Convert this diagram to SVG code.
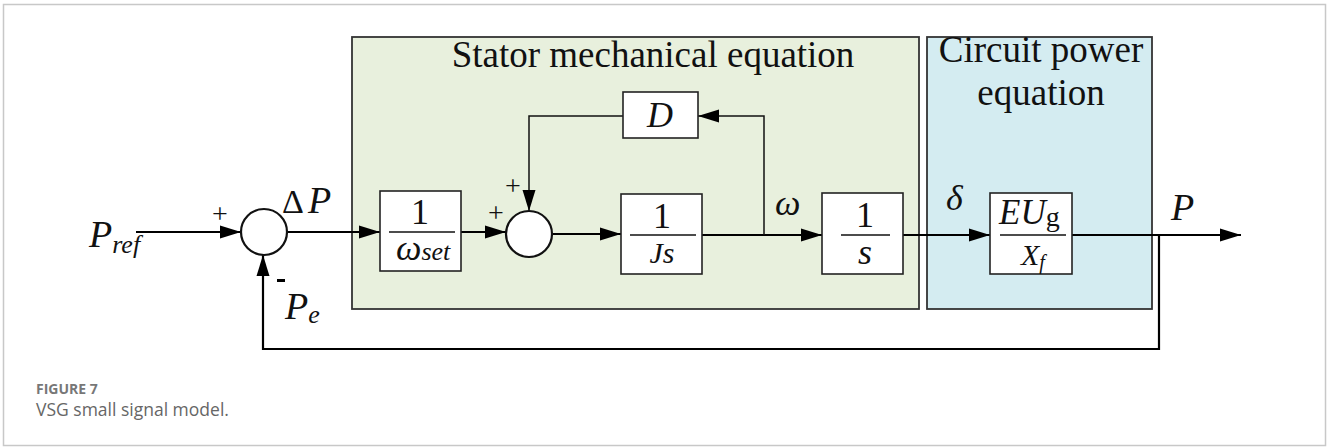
<svg xmlns="http://www.w3.org/2000/svg" width="1327" height="447" viewBox="0 0 1327 447">
<style>
.frame{fill:#fff;stroke:#c8c8c8;stroke-width:1.5}
.grp{stroke:#333;stroke-width:1.8}
.blk{fill:#fff;stroke:#222;stroke-width:1.6}
.sum{fill:#fff;stroke:#111;stroke-width:2.2}
.ln{fill:none;stroke:#000;stroke-width:2.2}
.thin{fill:none;stroke:#111;stroke-width:1.5}
.fr{stroke:#111;stroke-width:1.6}
.t{font-family:"Liberation Serif","Times New Roman",serif;fill:#111}
.i{font-style:italic}
.title{font-size:37px}
.cap1{font-family:"Open Sans","Liberation Sans",sans-serif;font-weight:bold;font-size:14px;fill:#777}
.cap2{font-family:"Open Sans","Liberation Sans",sans-serif;font-size:17.5px;fill:#666}
</style>
<defs>
<marker id="ah" markerUnits="userSpaceOnUse" markerWidth="22" markerHeight="14" refX="21" refY="7" orient="auto">
<path d="M0,0.5 L21,7 L0,13.5 z" fill="#000"/>
</marker>
</defs>
<rect class="frame" x="3.5" y="4.5" width="1322" height="441"/>

<g id="stator-group">
<rect class="grp" x="352" y="37" width="567" height="272" fill="#e8f0dd"/>
<text class="t title" x="653" y="67" text-anchor="middle">Stator mechanical equation</text>
</g>
<g id="circuit-group">
<rect class="grp" x="927" y="37" width="225" height="272" fill="#d4ecf1"/>
<text class="t title" x="1041" y="62" text-anchor="middle">Circuit power</text>
<text class="t title" x="1041" y="105" text-anchor="middle">equation</text>
</g>

<g id="connectors">
<path class="ln" d="M136,232 H241" marker-end="url(#ah)"/>
<path class="ln" d="M287,232 H380" marker-end="url(#ah)"/>
<path class="ln" d="M461,232 H506" marker-end="url(#ah)"/>
<path class="ln" d="M552,234 H621" marker-end="url(#ah)"/>
<path class="ln" d="M702,235 H822" marker-end="url(#ah)"/>
<path class="thin" d="M764,235 V116 H698" marker-end="url(#ah)"/>
<path class="thin" d="M623,116 H529 V211" marker-end="url(#ah)"/>
<path class="ln" d="M903,235 H990" marker-end="url(#ah)"/>
<path class="ln" d="M1072,235 H1241" marker-end="url(#ah)"/>
<path class="ln" d="M1159,235 V349 H263 V255" marker-end="url(#ah)"/>
</g>

<g id="sum1">
<circle class="sum" cx="264" cy="232" r="23"/>
<text class="t" x="220" y="223" font-size="28" text-anchor="middle">+</text>
<rect x="277" y="279" width="8" height="3" fill="#000"/>
</g>
<g id="sum2">
<circle class="sum" cx="529" cy="234" r="23"/>
<text class="t" x="496" y="222" font-size="28" text-anchor="middle">+</text>
<text class="t" x="513" y="195" font-size="28" text-anchor="middle">+</text>
</g>

<g id="block-wset">
<rect class="blk" x="380" y="191" width="81" height="80"/>
<text class="t" x="420" y="224" font-size="36" text-anchor="middle">1</text>
<line class="fr" x1="389" y1="232" x2="455" y2="232"/>
<text class="t i" x="396" y="260" font-size="36">ω<tspan font-size="26">set</tspan></text>
</g>
<g id="block-D">
<rect class="blk" x="623" y="92" width="75" height="46"/>
<text class="t i" x="660" y="127" font-size="36" text-anchor="middle">D</text>
</g>
<g id="block-Js">
<rect class="blk" x="621" y="194" width="81" height="80"/>
<text class="t" x="662" y="228" font-size="36" text-anchor="middle">1</text>
<line class="fr" x1="630" y1="235" x2="696" y2="235"/>
<text class="t i" x="662" y="263" font-size="30" text-anchor="middle">Js</text>
</g>
<g id="block-s">
<rect class="blk" x="822" y="193" width="81" height="81"/>
<text class="t" x="865" y="227" font-size="36" text-anchor="middle">1</text>
<line class="fr" x1="841" y1="235" x2="890" y2="235"/>
<text class="t i" x="865" y="264" font-size="36" text-anchor="middle">s</text>
</g>
<g id="block-EUg">
<rect class="blk" x="990" y="193" width="82" height="81"/>
<text class="t i" x="999" y="224" font-size="35">EU<tspan font-style="normal" font-size="28" dy="2">g</tspan></text>
<line class="fr" x1="1000" y1="235" x2="1066" y2="235"/>
<text class="t i" x="1021" y="265" font-size="30">X<tspan font-size="20" dy="4">f</tspan></text>
</g>

<g id="labels">
<text class="t i" x="89" y="247" font-size="38">P<tspan font-size="26" dy="6">ref</tspan></text>
<text class="t" x="282" y="213" font-size="34">Δ</text>
<text class="t i" x="308" y="213" font-size="38">P</text>
<text class="t i" x="285" y="319" font-size="38">P<tspan font-size="26" dy="4">e</tspan></text>
<text class="t i" x="775" y="215" font-size="36">ω</text>
<text class="t i" x="946" y="210" font-size="36">δ</text>
<text class="t i" x="1171" y="220" font-size="38">P</text>
</g>

<text class="cap1" x="36" y="394">FIGURE 7</text>
<text class="cap2" x="36" y="416">VSG small signal model.</text>
</svg>
